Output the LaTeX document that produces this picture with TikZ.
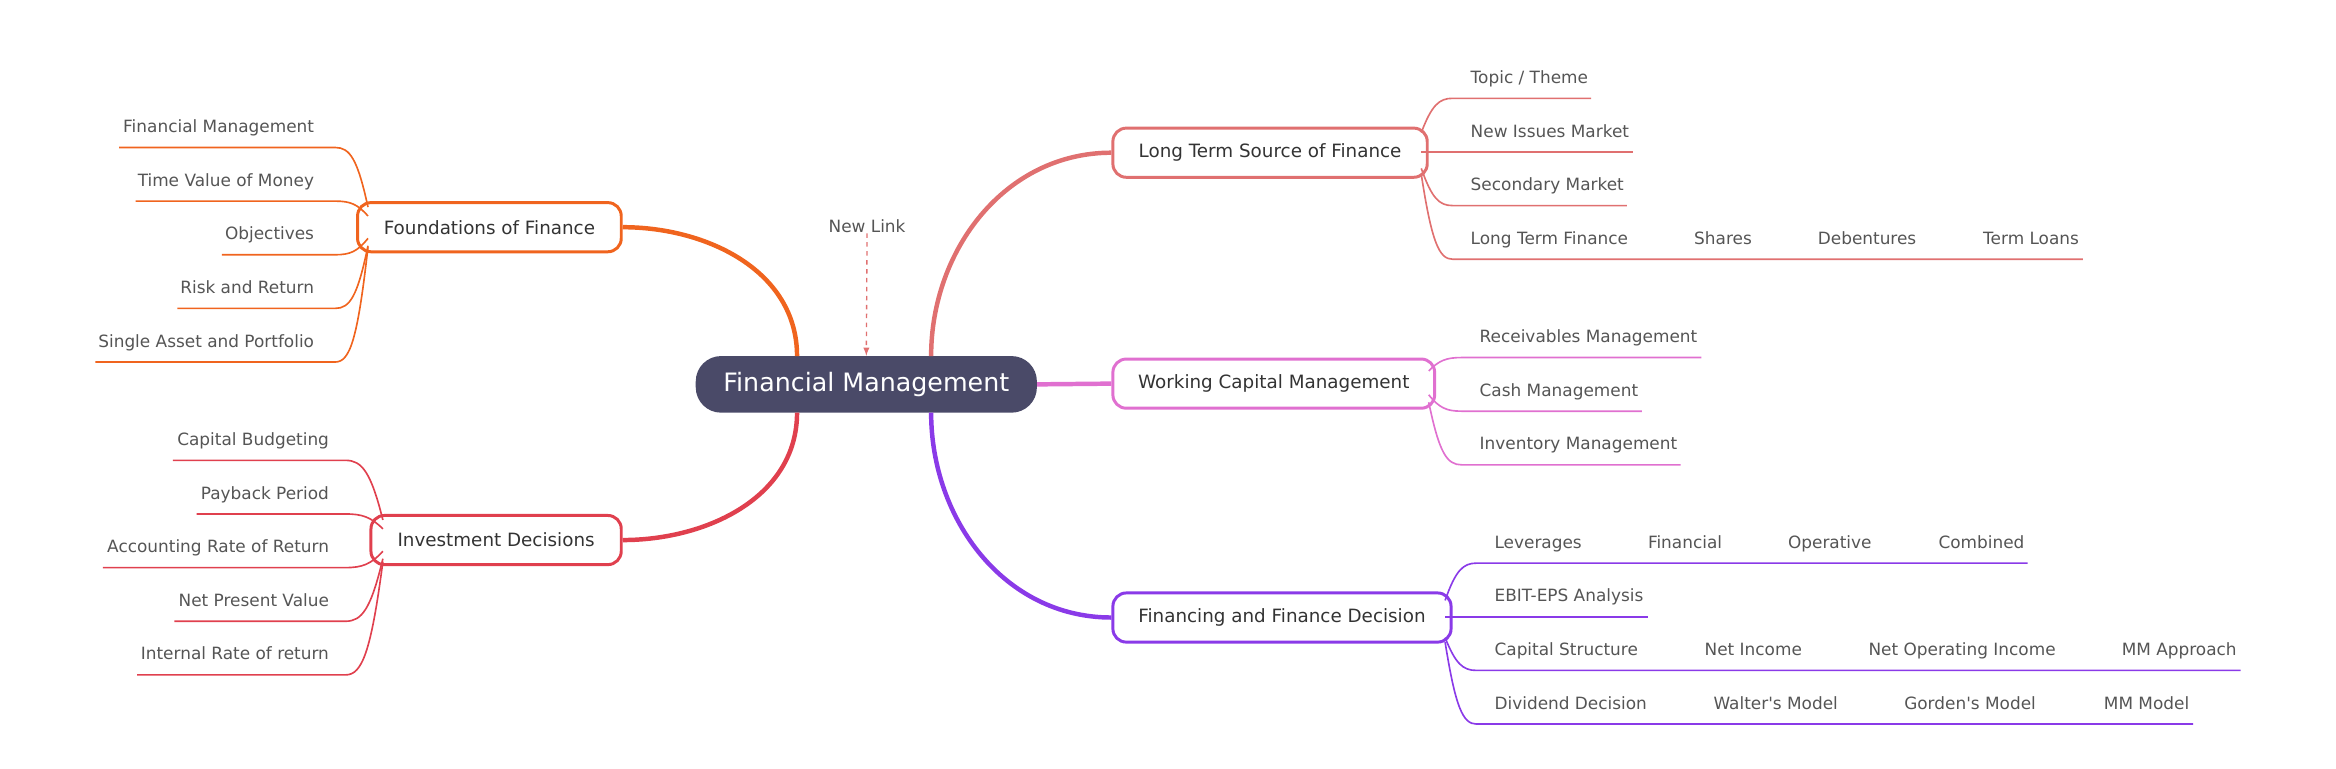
\documentclass[tikz,border=0pt]{standalone}
\usepackage{fontspec}
\setmainfont{DejaVu Sans}
\definecolor{cen}{HTML}{4A4A68}
\definecolor{cf}{HTML}{F0641E}
\definecolor{ci}{HTML}{E0404E}
\definecolor{cl}{HTML}{E07070}
\definecolor{cw}{HTML}{E070D0}
\definecolor{cp}{HTML}{8A3AE8}
\definecolor{tx}{HTML}{555555}
\begin{document}
\begin{tikzpicture}[x=1pt,y=-1pt,
 branch/.style={draw,line width=2pt,rounded corners=9pt,minimum height=33pt,font=\fontsize{12.3}{14}\selectfont,text=black!80,inner xsep=0pt},
 leaf/.style={font=\fontsize{11.35}{13}\selectfont,text=tx,inner sep=0pt},
 lk/.style={line width=1.1pt},
 mk/.style={line width=3pt}]
\useasboundingbox (0,0) rectangle (1568,516);
\node[fill=cen,rounded corners=17pt,minimum width=229pt,minimum height=38pt,text=white,font=\fontsize{17}{20}\selectfont] (C) at (581.5,258) {Financial Management};
\node[branch,draw=cf,minimum width=177pt] (F) at (328.5,152.5) {Foundations of Finance};
\node[branch,draw=ci,minimum width=168pt] (I) at (333,362.5) {Investment Decisions};
\node[branch,draw=cl,minimum width=211pt] (L) at (852.5,102.5) {Long Term Source of Finance};
\node[branch,draw=cw,minimum width=216pt] (W) at (855,257.5) {Working Capital Management};
\node[branch,draw=cp,minimum width=227pt] (P) at (860.5,414.5) {Financing and Finance Decision};
\coordinate (c1) at (535,239); \coordinate (c2) at (535,277);
\coordinate (c3) at (625,239); \coordinate (c4) at (625,277);
\draw[mk,cf] (c1) to[out=90,in=0] (F.east);
\draw[mk,ci] (c2) to[out=-90,in=0] (I.east);
\draw[mk,cl] (c3) to[out=90,in=180] (L.west);
\draw[mk,cw] (C.east) -- (W.west);
\draw[mk,cp] (c4) to[out=-90,in=180] (P.west);
\node[leaf] (NL) at (582,152) {New Link};
\draw[cl,dashed,-latex,line width=0.9pt] (NL.south) -- (C.north);
% left leaves
\foreach \t/\y/\l/\s [count=\i] in {Financial Management/99/80/139,Time Value of Money/135/91/145,Objectives/171/149/160,Risk and Return/207/119/165,Single Asset and Portfolio/243/64/166}{
 \node[leaf,anchor=base east] (fl\i) at (211,\y-10) {\t};
 \coordinate (fe\i) at (225,\y);
 \coordinate (fs\i) at (247,\s);
 \draw[lk,cf] (fs\i) .. controls (240,{\s+(\y-\s)*0.8}) and (235,\y) .. (fe\i) -- (\l,\y);}
\foreach \t/\y/\l/\s [count=\i] in {Capital Budgeting/309/116/349,Payback Period/345/132/355,Accounting Rate of Return/381/69/370,Net Present Value/417/117/375,Internal Rate of return/453/92/377}{
 \node[leaf,anchor=base east] (il\i) at (221,\y-10) {\t};
 \coordinate (ie\i) at (232,\y);
 \coordinate (is\i) at (257,\s);
 \draw[lk,ci] (is\i) .. controls (249,{\s+(\y-\s)*0.8}) and (243,\y) .. (ie\i) -- (\l,\y);}
% right leaves
\foreach \t/\y/\r/\s [count=\i] in {{Topic / Theme}/66/1068/89,New Issues Market/102/1096/102,Secondary Market/138/1092/113,Long Term Finance/174/1398/117}{
 \node[leaf,anchor=base west] (ll\i) at (987,\y-10) {\t};
 \coordinate (le\i) at (975,\y);
 \coordinate (ls\i) at (954,\s);
 \draw[lk,cl] (ls\i) .. controls (961,{\s+(\y-\s)*0.8}) and (966,\y) .. (le\i) -- (\r,\y);}
\node[leaf,anchor=base west] (x1) at (1137,164) {Shares};
\node[leaf,anchor=base west] (x2) at (1220,164) {Debentures};
\node[leaf,anchor=base west] (x3) at (1331,164) {Term Loans};
\foreach \t/\y/\r/\s [count=\i] in {Receivables Management/240/1142/249,Cash Management/276/1102/265,Inventory Management/312/1128/270}{
 \node[leaf,anchor=base west] (wl\i) at (993,\y-10) {\t};
 \coordinate (we\i) at (981,\y);
 \coordinate (ws\i) at (959,\s);
 \draw[lk,cw] (ws\i) .. controls (966,{\s+(\y-\s)*0.8}) and (971,\y) .. (we\i) -- (\r,\y);}
\foreach \t/\y/\r/\s [count=\i] in {Leverages/378/1361/403,EBIT-EPS Analysis/414/1106/414,Capital Structure/450/1504/428,Dividend Decision/486/1472/431}{
 \node[leaf,anchor=base west] (pl\i) at (1003,\y-10) {\t};
 \coordinate (pe\i) at (991,\y);
 \coordinate (ps\i) at (970,\s);
 \draw[lk,cp] (ps\i) .. controls (977,{\s+(\y-\s)*0.8}) and (982,\y) .. (pe\i) -- (\r,\y);}
\node[leaf,anchor=base west] (y1) at (1106,368) {Financial};
\node[leaf,anchor=base west] (y2) at (1200,368) {Operative};
\node[leaf,anchor=base west] (y3) at (1301,368) {Combined};
\node[leaf,anchor=base west] (y4) at (1144,440) {Net Income};
\node[leaf,anchor=base west] (y5) at (1254,440) {Net Operating Income};
\node[leaf,anchor=base west] (y6) at (1424,440) {MM Approach};
\node[leaf,anchor=base west] (y7) at (1150,476) {Walter\textquotesingle s Model};
\node[leaf,anchor=base west] (y8) at (1278,476) {Gorden\textquotesingle s Model};
\node[leaf,anchor=base west] (y9) at (1412,476) {MM Model};
\end{tikzpicture}
\end{document}
